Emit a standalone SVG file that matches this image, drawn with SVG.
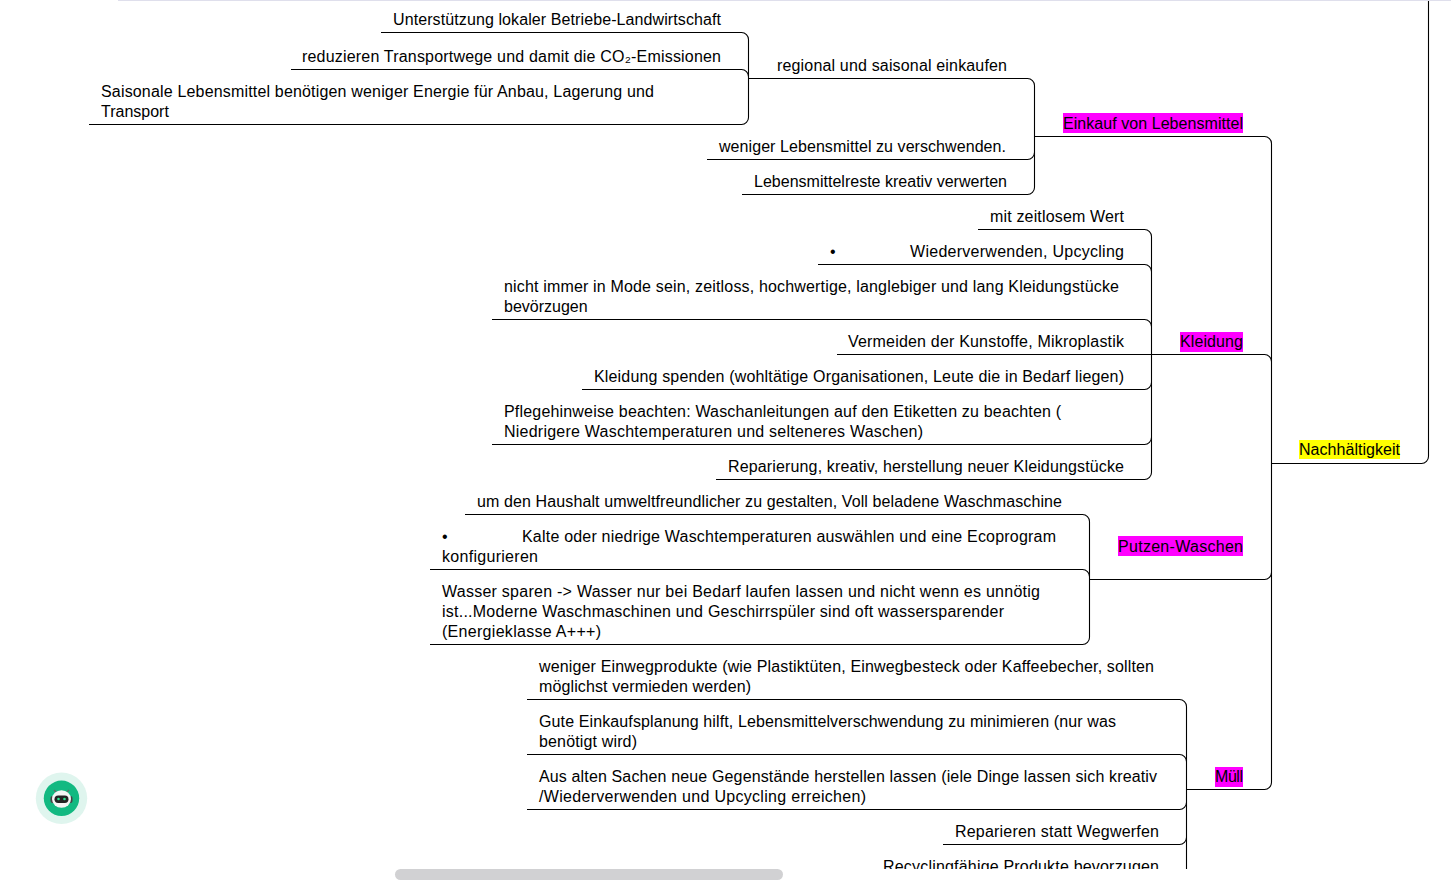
<svg xmlns="http://www.w3.org/2000/svg" width="1451" height="880" viewBox="0 0 1451 880">
<style>
text{font-family:"Liberation Sans",Arial,sans-serif;font-size:16px;fill:#000}
.c{fill:none;stroke:#000;stroke-width:1.1}
.m{fill:#f0f}
.y{fill:#ff0}
</style>
<defs><clipPath id="view"><rect x="0" y="0" width="1451" height="869"/></clipPath></defs>
<rect width="1451" height="880" fill="#fff"/>
<rect id="top-edge" x="118" y="0" width="1333" height="1" fill="#dfdfec"/>
<g clip-path="url(#view)">
<g id="connectors">
<path class="c" d="M1428.500 1V456.500a7 7 0 0 1 -7 7H1271.500"/>
<path class="c" d="M1034.500 136.500H1264.500a7 7 0 0 1 7 7V782.500a7 7 0 0 1 -7 7H1186.500"/>
<path class="c" d="M1089.500 579.500H1264.500a7 7 0 0 0 7 -7"/>
<path class="c" d="M837 354.500H1264.500a7 7 0 0 1 7 7"/>
<path class="c" d="M748.500 78.500H1027.500a7 7 0 0 1 7 7V187.500a7 7 0 0 1 -7 7H742"/>
<path class="c" d="M707 159.500H1027.500a7 7 0 0 0 7 -7"/>
<path class="c" d="M381 32.500H741.500a7 7 0 0 1 7 7V117.500a7 7 0 0 1 -7 7H89"/>
<path class="c" d="M291 69.500H741.500a7 7 0 0 1 7 7"/>
<path class="c" d="M978 229.500H1144.500a7 7 0 0 1 7 7V472.500a7 7 0 0 1 -7 7H716"/>
<path class="c" d="M818 264.500H1144.500a7 7 0 0 1 7 7"/>
<path class="c" d="M492 319.500H1144.500a7 7 0 0 1 7 7"/>
<path class="c" d="M582 389.500H1144.500a7 7 0 0 0 7 -7"/>
<path class="c" d="M492 444.500H1144.500a7 7 0 0 0 7 -7"/>
<path class="c" d="M465 514.500H1082.500a7 7 0 0 1 7 7V637.500a7 7 0 0 1 -7 7H430"/>
<path class="c" d="M430 569.500H1082.500a7 7 0 0 1 7 7"/>
<path class="c" d="M527 699.500H1179.500a7 7 0 0 1 7 7V880"/>
<path class="c" d="M527 754.500H1179.500a7 7 0 0 1 7 7"/>
<path class="c" d="M527 809.500H1179.500a7 7 0 0 0 7 -7"/>
<path class="c" d="M943 844.500H1179.500a7 7 0 0 0 7 -7"/>
</g>
<g id="n-nachhaltigkeit"><rect class="y" x="1299" y="440" width="101" height="19"/><text x="1299" y="455" textLength="101">Nachhältigkeit</text></g>
<g id="n-einkauf"><rect class="m" x="1063" y="113" width="180" height="20"/><text x="1063" y="129" textLength="180">Einkauf von Lebensmittel</text></g>
<g id="n-kleidung"><rect class="m" x="1180" y="332" width="63" height="20"/><text x="1180" y="347" textLength="63">Kleidung</text></g>
<g id="n-putzen"><rect class="m" x="1118" y="536" width="125" height="20"/><text x="1118" y="552" textLength="125">Putzen-Waschen</text></g>
<g id="n-muell"><rect class="m" x="1215" y="767" width="28" height="20"/><text x="1215" y="782" textLength="28">Müll</text></g>
<g id="n-regional"><text x="777" y="71" textLength="230">regional und saisonal einkaufen</text></g>
<g id="n-unterstuetzung"><text x="393" y="25" textLength="328">Unterstützung lokaler Betriebe-Landwirtschaft</text></g>
<g id="n-transport"><text x="302" y="62" textLength="419">reduzieren Transportwege und damit die CO₂-Emissionen</text></g>
<g id="n-saisonal"><text x="101" y="97" textLength="553">Saisonale Lebensmittel benötigen weniger Energie für Anbau, Lagerung und</text><text x="101" y="117">Transport</text></g>
<g id="n-weniger"><text x="719" y="152" textLength="287">weniger Lebensmittel zu verschwenden.</text></g>
<g id="n-reste"><text x="754" y="187" textLength="253">Lebensmittelreste kreativ verwerten</text></g>
<g id="n-wert"><text x="990" y="222" textLength="134">mit zeitlosem Wert</text></g>
<g id="n-upcycling"><text x="830" y="257">•</text><text x="910" y="257" textLength="214">Wiederverwenden, Upcycling</text></g>
<g id="n-mode"><text x="504" y="292" textLength="615">nicht immer in Mode sein, zeitloss, hochwertige, langlebiger und lang Kleidungstücke</text><text x="504" y="312">bevörzugen</text></g>
<g id="n-kunststoffe"><text x="848" y="347" textLength="276">Vermeiden der Kunstoffe, Mikroplastik</text></g>
<g id="n-spenden"><text x="594" y="382" textLength="530">Kleidung spenden (wohltätige Organisationen, Leute die in Bedarf liegen)</text></g>
<g id="n-pflege"><text x="504" y="417" textLength="557">Pflegehinweise beachten: Waschanleitungen auf den Etiketten zu beachten (</text><text x="504" y="437" textLength="419">Niedrigere Waschtemperaturen und selteneres Waschen)</text></g>
<g id="n-reparierung"><text x="728" y="472" textLength="396">Reparierung, kreativ, herstellung neuer Kleidungstücke</text></g>
<g id="n-haushalt"><text x="477" y="507" textLength="585">um den Haushalt umweltfreundlicher zu gestalten, Voll beladene Waschmaschine</text></g>
<g id="n-temperatur"><text x="442" y="542">•</text><text x="522" y="542" textLength="534">Kalte oder niedrige Waschtemperaturen auswählen und eine Ecoprogram</text><text x="442" y="562" textLength="96">konfigurieren</text></g>
<g id="n-wasser"><text x="442" y="597" textLength="598">Wasser sparen -&gt; Wasser nur bei Bedarf laufen lassen und nicht wenn es unnötig</text><text x="442" y="617" textLength="562">ist...Moderne Waschmaschinen und Geschirrspüler sind oft wassersparender</text><text x="442" y="637" textLength="159">(Energieklasse A+++)</text></g>
<g id="n-einweg"><text x="539" y="672" textLength="615">weniger Einwegprodukte (wie Plastiktüten, Einwegbesteck oder Kaffeebecher, sollten</text><text x="539" y="692" textLength="212">möglichst vermieden werden)</text></g>
<g id="n-planung"><text x="539" y="727" textLength="577">Gute Einkaufsplanung hilft, Lebensmittelverschwendung zu minimieren (nur was</text><text x="539" y="747" textLength="98">benötigt wird)</text></g>
<g id="n-sachen"><text x="539" y="782" textLength="618">Aus alten Sachen neue Gegenstände herstellen lassen (iele Dinge lassen sich kreativ</text><text x="539" y="802" textLength="327">/Wiederverwenden und Upcycling erreichen)</text></g>
<g id="n-reparieren"><text x="955" y="837" textLength="204">Reparieren statt Wegwerfen</text></g>
<g id="n-recycling"><text x="883" y="872" textLength="276">Recyclingfähige Produkte bevorzugen</text></g>
</g>
<rect id="scrollbar" x="395" y="869" width="388" height="11" rx="5.500" fill="#d1d1d3"/>
<g id="bot">
<circle cx="61.500" cy="798.300" r="25.700" fill="#dff5ee"/>
<circle cx="61.500" cy="798.300" r="17.700" fill="#12b981"/>
<rect x="50.500" y="796" width="22" height="7" rx="2" fill="#444"/>
<path d="M54 790l3 3M69 790l-3 3" stroke="#666" stroke-width="1.200"/>
<ellipse cx="61.500" cy="799" rx="9.500" ry="8.800" fill="#f4f4f4"/>
<rect x="54.500" y="795.500" width="14" height="7.500" rx="3.700" fill="#222"/>
<circle cx="58.500" cy="799" r="1.300" fill="#2be28f"/>
<circle cx="64.500" cy="799" r="1.300" fill="#2be28f"/>
</g>
</svg>
